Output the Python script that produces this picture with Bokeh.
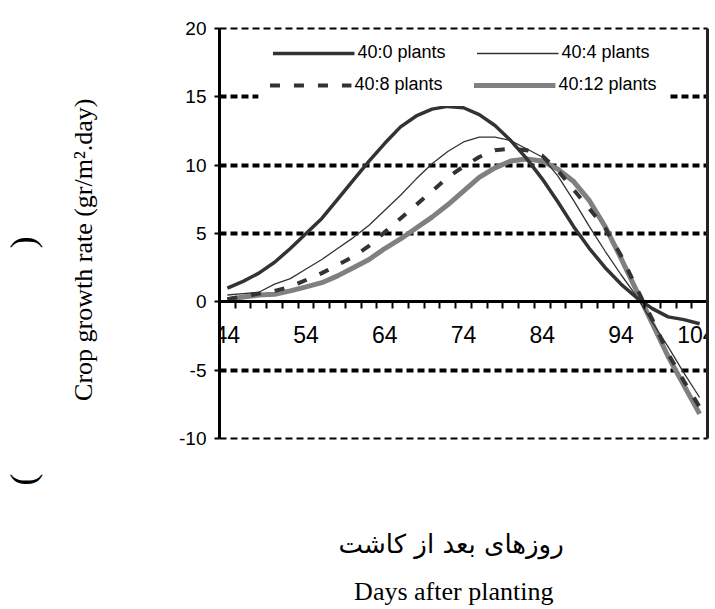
from bokeh.plotting import figure
from bokeh.models import Range1d, FixedTicker, LinearAxis, Legend, LegendItem, Title
from bokeh.embed import file_html
from bokeh.resources import INLINE

# ---------------- data ----------------
days = [44, 46, 48, 50, 52, 54, 56, 58, 60, 62, 64, 66, 68, 70, 72, 74,
        76, 78, 80, 82, 84, 86, 88, 90, 92, 94, 96, 98, 100, 102, 104]

cgr_40_0 = [1.0, 1.5, 2.1, 2.9, 3.9, 5.0, 6.1, 7.5, 8.9, 10.3, 11.6, 12.8, 13.6, 14.1, 14.3, 14.2,
            13.7, 12.9, 11.8, 10.5, 9.0, 7.3, 5.5, 3.9, 2.5, 1.3, 0.3, -0.5, -1.1, -1.3, -1.6]
cgr_40_4 = [0.5, 0.6, 0.7, 1.3, 1.7, 2.4, 3.1, 3.9, 4.7, 5.6, 6.7, 7.8, 9.0, 10.1, 11.0, 11.7,
            12.05, 12.05, 11.8, 11.2, 10.6, 9.2, 7.4, 5.5, 3.7, 2.0, 0.4, -1.5, -3.3, -5.2, -7.0]
cgr_40_8 = [0.2, 0.4, 0.6, 0.8, 1.1, 1.6, 2.1, 2.7, 3.3, 4.1, 5.1, 6.1, 7.1, 8.1, 9.1, 9.9,
            10.6, 11.1, 11.2, 11.1, 10.7, 9.6, 8.2, 6.8, 5.4, 3.4, 1.0, -1.3, -3.8, -5.8, -7.7]
cgr_40_12 = [0.15, 0.35, 0.5, 0.55, 0.8, 1.1, 1.4, 1.9, 2.5, 3.1, 3.9, 4.6, 5.4, 6.2, 7.1, 8.1,
             9.1, 9.8, 10.3, 10.45, 10.3, 9.7, 8.8, 7.4, 5.5, 3.2, 0.8, -1.6, -4.0, -6.1, -8.2]

series_labels = ["40:0 plants", "40:4 plants", "40:8 plants", "40:12 plants"]
x_tick_days = [44, 54, 64, 74, 84, 94, 104]
y_ticks = [-10, -5, 0, 5, 10, 15, 20]
y_tick_labels = ["-10", "-5", "0", "5", "10", "15", "20"]

y_title = "Crop growth rate (gr/m\u00b2.day)"
x_title_fa = "روزهای بعد از کاشت"
x_title_en = "Days after planting"
NB = "\u00a0"

# ---------------- figure ----------------
p = figure(width=715, height=609, x_range=Range1d(43, 105), y_range=Range1d(-10, 20),
           output_backend="svg", toolbar_location=None, title=None,
           min_border_left=212, min_border_right=8, min_border_top=28, min_border_bottom=171,
           background_fill_color="white", border_fill_color="white", outline_line_color=None)

# x axis crossing at y = 0, category boundaries as tick marks
xa = p.xaxis[0]
xa.fixed_location = 0
xa.ticker = FixedTicker(ticks=x_tick_days, minor_ticks=[d + 1 for d in days[:-1]])
xa.axis_line_width = 3
xa.axis_line_color = "black"
xa.major_tick_out = 0
xa.major_tick_in = 0
xa.minor_tick_out = 7
xa.minor_tick_in = 0
xa.minor_tick_line_width = 2
xa.minor_tick_line_color = "black"
xa.major_label_standoff = 17
xa.major_label_text_font = "Liberation Sans"
xa.major_label_text_font_size = "23px"
xa.major_label_text_color = "black"

ya = p.yaxis[0]
ya.ticker = FixedTicker(ticks=y_ticks)
ya.major_label_overrides = {t: s for t, s in zip(y_ticks, y_tick_labels)}
ya.axis_line_width = 3
ya.axis_line_color = "black"
ya.major_tick_out = 5
ya.major_tick_in = 0
ya.major_tick_line_width = 2
ya.major_tick_line_color = "black"
ya.minor_tick_out = 0
ya.minor_tick_in = 0
ya.major_label_standoff = 8
ya.major_label_text_font = "Liberation Sans"
ya.major_label_text_font_size = "19px"
ya.major_label_text_color = "black"
ya.axis_label = y_title + NB * 5
ya.axis_label_standoff = 78
ya.axis_label_text_font = "Liberation Serif"
ya.axis_label_text_font_size = "26px"
ya.axis_label_text_font_style = "normal"
ya.axis_label_text_color = "black"


def blank_axis(label=None, standoff=0, font="Liberation Serif", size="26px",
               line_color=None, line_width=1, line_dash="solid"):
    ax = LinearAxis(ticker=FixedTicker(ticks=[]), axis_line_color=line_color,
                    axis_line_width=line_width, axis_line_dash=line_dash,
                    major_tick_out=0, major_tick_in=0, minor_tick_out=0, minor_tick_in=0,
                    major_label_standoff=0, major_label_text_font_size="0px")
    if label is not None:
        ax.axis_label = label
        ax.axis_label_standoff = standoff
        ax.axis_label_text_font = font
        ax.axis_label_text_font_size = size
        ax.axis_label_text_font_style = "normal"
        ax.axis_label_text_color = "black"
    return ax


# frame borders
p.add_layout(blank_axis(line_color="#222222", line_width=3), "right")
p.add_layout(blank_axis(line_color="black", line_width=2, line_dash="7 4"), "above")
p.add_layout(blank_axis(line_color="black", line_width=2, line_dash="7 4"), "below")

# outer labels
p.add_layout(blank_axis(NB, 19, "Liberation Serif", "2px"), "left")
p.add_layout(Title(text="(" + NB * 25 + ")", align="left", offset=-47, standoff=0,
                   vertical_align="bottom", text_font="Liberation Serif", text_font_size="36px",
                   text_font_style="normal", text_color="black"), "left")
p.add_layout(blank_axis(x_title_fa + NB * 3, 90, "DejaVu Sans", "26px"), "below")
p.add_layout(blank_axis(x_title_en + NB * 3, 15, "Liberation Serif", "26px"), "below")

# dotted horizontal gridlines (as spans so that the legend covers them)
p.xgrid.visible = False
p.ygrid.visible = False
p.hspan(y=[t for t in y_ticks if t not in (0, y_ticks[0], y_ticks[-1])],
        line_color="black", line_width=4, line_dash="7 4")

# ---------------- series ----------------
r12 = p.line(days, cgr_40_12, line_color="#808080", line_width=5, line_join="round")
r0 = p.line(days, cgr_40_0, line_color="#333333", line_width=3.5, line_join="round")
r4 = p.line(days, cgr_40_4, line_color="#333333", line_width=1.3, line_join="round")
r8 = p.line(days, cgr_40_8, line_color="#333333", line_width=4, line_dash="10 14")


def make_legend(items, margin):
    return Legend(items=items, orientation="horizontal", location="top_center", margin=margin,
                  padding=10, spacing=27, glyph_width=82, glyph_height=20, label_standoff=3,
                  label_width=92, label_text_font="Liberation Sans", label_text_font_size="18px",
                  label_text_color="black", border_line_color="white", border_line_width=1,
                  level="overlay", background_fill_color="white", background_fill_alpha=1.0)


leg1 = make_legend([LegendItem(label=series_labels[0], renderers=[r0]),
                    LegendItem(label=series_labels[1], renderers=[r4])], 3)
leg2 = make_legend([LegendItem(label=series_labels[2], renderers=[r8]),
                    LegendItem(label=series_labels[3], renderers=[r12])], 35)
p.add_layout(leg1)
p.add_layout(leg2)

open("out.html", "w").write(file_html(p, INLINE))
